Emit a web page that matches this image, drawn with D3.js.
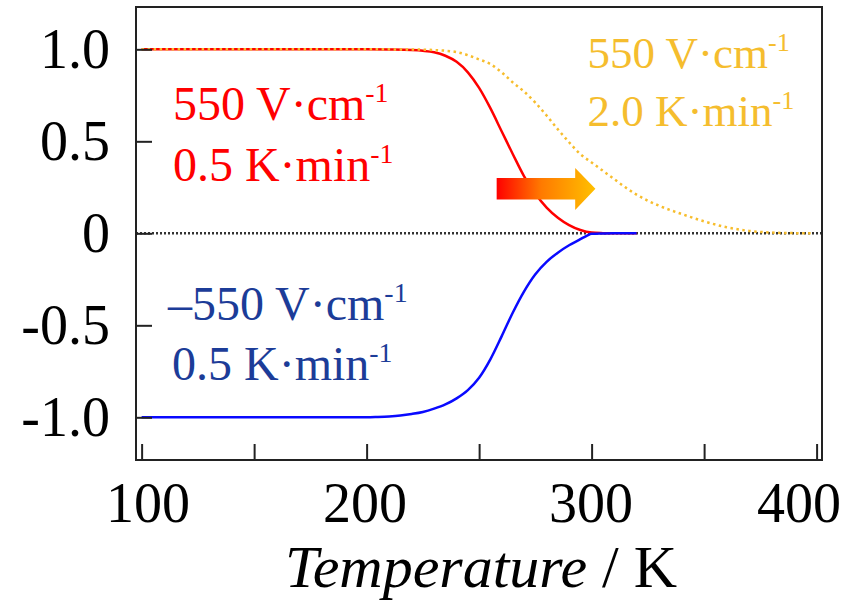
<!DOCTYPE html>
<html>
<head>
<meta charset="utf-8">
<script src="https://cdn.jsdelivr.net/npm/d3@7"></script>
<style>
  body { margin: 0; background: #fff; }
  svg { display: block; }
</style>
</head>
<body>
<div id="chart"></div>
<script>
// temperature (K) sampled along the curves
const redTemps = [100, 150, 200, 210, 220, 225, 230, 235, 240, 245, 250, 255, 260, 265, 270, 275, 280, 285, 290, 295, 300, 305, 310, 320];
const redValues = [1, 1, 1, 0.999, 0.996, 0.992, 0.984, 0.965, 0.932, 0.875, 0.79, 0.68, 0.555, 0.43, 0.31, 0.215, 0.14, 0.085, 0.045, 0.018, 0.004, 0.001, 0, 0];

const blueTemps = [100, 150, 200, 205, 210, 215, 220, 225, 230, 235, 240, 245, 250, 255, 260, 265, 270, 275, 280, 285, 290, 295, 298, 300, 305, 310, 320];
const blueValues = [-1, -1, -1, -0.998, -0.995, -0.99, -0.982, -0.971, -0.953, -0.93, -0.897, -0.852, -0.785, -0.685, -0.56, -0.43, -0.315, -0.222, -0.155, -0.105, -0.065, -0.032, -0.012, -0.003, -0.001, 0, 0];

const orangeTemps = [100, 150, 200, 220, 230, 240, 250, 255, 260, 265, 270, 275, 280, 285, 290, 295, 300, 305, 310, 315, 320, 325, 330, 340, 350, 360, 370, 380, 390, 398];
const orangeValues = [1, 1, 1, 0.999, 0.996, 0.985, 0.945, 0.92, 0.875, 0.82, 0.77, 0.71, 0.64, 0.565, 0.495, 0.43, 0.385, 0.34, 0.295, 0.25, 0.21, 0.177, 0.15, 0.105, 0.065, 0.033, 0.013, 0.004, 0.001, 0];

const xTicks = [100, 150, 200, 250, 300, 350, 400];
const xTickLabels = ["100", "", "200", "", "300", "", "400"];
const yTicks = [-1, -0.5, 0, 0.5, 1];
const yTickLabels = ["-1.0", "-0.5", "0", "0.5", "1.0"];

const width = 850;
const height = 601;
const margin = { top: 7, right: 28, bottom: 141, left: 136 };
const plotW = width - margin.left - margin.right;
const plotH = height - margin.top - margin.bottom;

const svg = d3
  .select("#chart")
  .append("svg")
  .attr("width", width)
  .attr("height", height)
  .style("font-family", "'Liberation Serif', 'Times New Roman', serif");

const g = svg.append("g").attr("transform", `translate(${margin.left}, ${margin.top})`);

const x = d3.scaleLinear().domain([97.5, 402.4]).range([0, plotW]);
const y = d3.scaleLinear().domain([-1.232, 1.23]).range([plotH, 0]);

// arrow gradient
const grad = svg.append("defs").append("linearGradient")
  .attr("id", "arrowGrad")
  .attr("x1", "0%").attr("x2", "100%").attr("y1", "0%").attr("y2", "0%");
grad.append("stop").attr("offset", "0%").attr("stop-color", "#ff0000");
grad.append("stop").attr("offset", "45%").attr("stop-color", "#ff7a00");
grad.append("stop").attr("offset", "100%").attr("stop-color", "#ffc000");

// zero line (dotted)
g.append("line")
  .attr("x1", 0).attr("x2", plotW)
  .attr("y1", y(0)).attr("y2", y(0))
  .attr("stroke", "#333")
  .attr("stroke-width", 2.5)
  .attr("stroke-dasharray", "2,2");

const line = d3.line()
  .x((d) => x(d[0]))
  .y((d) => y(d[1]))
  .curve(d3.curveMonotoneX);

g.append("path")
  .datum(redTemps.map((t, i) => [t, redValues[i]]))
  .attr("d", line)
  .attr("fill", "none")
  .attr("stroke", "#ff0000")
  .attr("stroke-width", 2.5);

g.append("path")
  .datum(blueTemps.map((t, i) => [t, blueValues[i]]))
  .attr("d", line)
  .attr("fill", "none")
  .attr("stroke", "#0a0aff")
  .attr("stroke-width", 2.5);

g.append("path")
  .datum(orangeTemps.map((t, i) => [t, orangeValues[i]]))
  .attr("d", line)
  .attr("fill", "none")
  .attr("stroke", "#f7bd2c")
  .attr("stroke-width", 2.5)
  .attr("stroke-dasharray", "2.5,3.5");

// arrow (heating direction)
const ax0 = x(257.8), ax1 = x(292.7), axTip = x(301.7);
const bodyTop = y(0.3), bodyBot = y(0.184), headTop = y(0.355), headBot = y(0.127);
const midY = (bodyTop + bodyBot) / 2;
g.append("path")
  .attr("d", `M${ax0},${bodyTop}L${ax1},${bodyTop}L${ax1},${headTop}L${axTip},${midY}L${ax1},${headBot}L${ax1},${bodyBot}L${ax0},${bodyBot}Z`)
  .attr("fill", "url(#arrowGrad)");

// axes, ticks pointing inward
const xAxis = g.append("g")
  .attr("transform", `translate(0, ${plotH})`)
  .call(d3.axisBottom(x).tickValues(xTicks).tickSize(-16).tickPadding(22)
    .tickFormat((d, i) => xTickLabels[i]));

const yAxis = g.append("g")
  .call(d3.axisLeft(y).tickValues(yTicks).tickSize(-16).tickPadding(26)
    .tickFormat((d, i) => yTickLabels[i]));

[xAxis, yAxis].forEach((ax) => {
  ax.select(".domain").remove();
  ax.selectAll(".tick line").attr("stroke", "#222").attr("stroke-width", 2);
  ax.selectAll("text")
    .attr("font-size", "56px")
    .attr("font-family", "'Liberation Serif', 'Times New Roman', serif")
    .attr("fill", "#000");
});

// the original labels sit a little inward at both ends
const xLabelShift = { 100: 6, 200: -2, 300: -1, 400: -18 };
xAxis.selectAll(".tick text").attr("dx", (d) => xLabelShift[d] || 0);

// frame
g.append("rect")
  .attr("x", 0).attr("y", 0)
  .attr("width", plotW).attr("height", plotH)
  .attr("fill", "none")
  .attr("stroke", "#222")
  .attr("stroke-width", 2);

// annotations
const labels = [
  { t: 113.9, v: 0.616, main: "550 V·cm", sup: "-1", color: "#ff0000", size: 48 },
  { t: 113.9, v: 0.284, main: "0.5 K·min", sup: "-1", color: "#ff0000", size: 48 },
  { t: 298.2, v: 0.9, main: "550 V·cm", sup: "-1", color: "#f5bd2e", size: 45 },
  { t: 298.2, v: 0.583, main: "2.0 K·min", sup: "-1", color: "#f5bd2e", size: 45 },
  { t: 111.7, v: -0.471, main: "\u2013550 V·cm", sup: "-1", color: "#1c3c98", size: 48 },
  { t: 113.5, v: -0.797, main: "0.5 K·min", sup: "-1", color: "#1c3c98", size: 48 }
];

labels.forEach((d) => {
  const txt = g.append("text")
    .attr("x", x(d.t))
    .attr("y", y(d.v))
    .attr("fill", d.color)
    .attr("font-size", d.size + "px");
  txt.append("tspan").text(d.main);
  txt.append("tspan").attr("dy", -d.size * 0.38).attr("font-size", (d.size * 0.58) + "px").text(d.sup);
});

// x-axis title
const title = svg.append("text")
  .attr("x", margin.left + plotW / 2 + 2)
  .attr("y", 587)
  .attr("text-anchor", "middle")
  .attr("font-size", "60px")
  .attr("fill", "#000");
title.append("tspan").attr("font-style", "italic").text("Temperature");
title.append("tspan").text(" / K");
</script>
</body>
</html>
